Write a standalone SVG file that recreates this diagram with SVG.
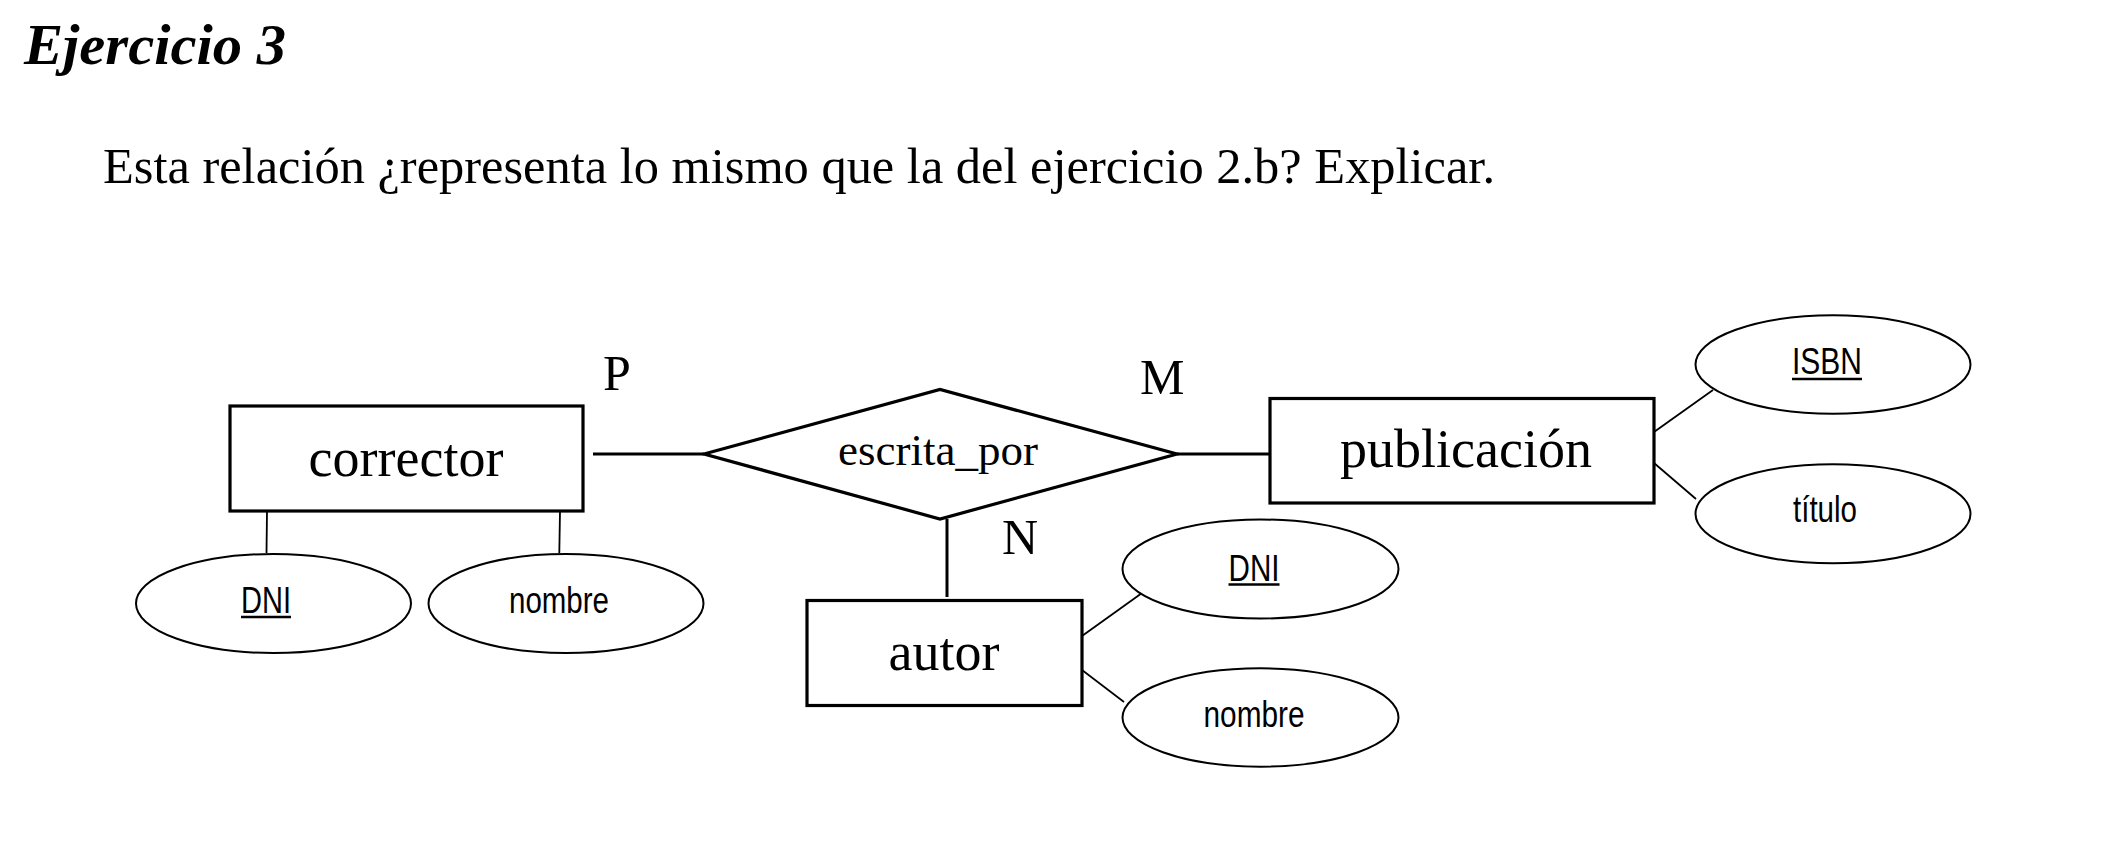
<svg xmlns="http://www.w3.org/2000/svg" width="2113" height="846" viewBox="0 0 2113 846">
<style>
.serif{font-family:"Liberation Serif","Times New Roman",serif;fill:#000}
.ent{fill:#fff;stroke:#000;stroke-width:3.2}
.rel{fill:#fff;stroke:#000;stroke-width:3.2}
.att{fill:#fff;stroke:#000;stroke-width:2}
.conn{stroke:#000;stroke-width:3;fill:none}
.aconn{stroke:#000;stroke-width:1.8;fill:none}
.atxt{font-family:"Liberation Sans Narrow","Liberation Sans",Arial,sans-serif;font-size:36px;fill:#000}
.ul{stroke:#000;stroke-width:2.4}
</style>
<rect width="2113" height="846" fill="#fff"/>
<text class="serif" x="24" y="64" font-size="57" font-weight="bold" font-style="italic" textLength="262" lengthAdjust="spacingAndGlyphs">Ejercicio 3</text>
<text class="serif" x="103" y="183" font-size="50" textLength="1392" lengthAdjust="spacingAndGlyphs">Esta relación ¿representa lo mismo que la del ejercicio 2.b? Explicar.</text>

<g id="connectors">
<line class="conn" x1="593" y1="454" x2="704" y2="454"/>
<line class="conn" x1="1177" y1="454" x2="1269" y2="454"/>
<line class="conn" x1="947" y1="519" x2="947" y2="597"/>
<line class="aconn" x1="267" y1="511" x2="266.5" y2="553"/>
<line class="aconn" x1="560" y1="511" x2="559.3" y2="553"/>
<line class="aconn" x1="1082" y1="636" x2="1142" y2="593"/>
<line class="aconn" x1="1082" y1="670" x2="1124" y2="702"/>
<line class="aconn" x1="1654" y1="432" x2="1713" y2="390"/>
<line class="aconn" x1="1654" y1="463" x2="1696" y2="499"/>
</g>

<g id="corrector">
<rect class="ent" x="230" y="406" width="353" height="105"/>
<text class="serif" x="406" y="476" font-size="54" text-anchor="middle">corrector</text>
</g>
<g id="escrita_por">
<polygon class="rel" points="704,454 940,389.5 1177,454 940,519"/>
<text class="serif" x="938" y="465" font-size="45" text-anchor="middle">escrita_por</text>
</g>
<g id="publicacion">
<rect class="ent" x="1270" y="398.5" width="384" height="104.5"/>
<text class="serif" x="1466" y="467" font-size="54" text-anchor="middle">publicación</text>
</g>
<g id="autor">
<rect class="ent" x="807" y="600.5" width="275" height="105"/>
<text class="serif" x="944" y="670" font-size="54" text-anchor="middle">autor</text>
</g>

<g id="card-P"><text class="serif" x="603" y="390" font-size="50">P</text></g>
<g id="card-M"><text class="serif" x="1140" y="394" font-size="50">M</text></g>
<g id="card-N"><text class="serif" x="1002" y="554" font-size="50">N</text></g>

<g id="corrector-DNI">
<ellipse class="att" cx="273.5" cy="603.5" rx="137.5" ry="49.5"/>
<text class="atxt" x="266" y="613" text-anchor="middle" textLength="50" lengthAdjust="spacingAndGlyphs">DNI</text>
<line class="ul" x1="241" y1="617" x2="291" y2="617"/>
</g>
<g id="corrector-nombre">
<ellipse class="att" cx="566" cy="603.5" rx="137.5" ry="49.5"/>
<text class="atxt" x="559" y="613" text-anchor="middle" textLength="100" lengthAdjust="spacingAndGlyphs">nombre</text>
</g>
<g id="autor-DNI">
<ellipse class="att" cx="1260.5" cy="569" rx="138" ry="49.5"/>
<text class="atxt" x="1254" y="581" text-anchor="middle" textLength="51" lengthAdjust="spacingAndGlyphs">DNI</text>
<line class="ul" x1="1228.5" y1="584.5" x2="1279.5" y2="584.5"/>
</g>
<g id="autor-nombre">
<ellipse class="att" cx="1260.5" cy="717.5" rx="138" ry="49.2"/>
<text class="atxt" x="1254" y="727" text-anchor="middle" textLength="101" lengthAdjust="spacingAndGlyphs">nombre</text>
</g>
<g id="pub-ISBN">
<ellipse class="att" cx="1833" cy="364.5" rx="137.5" ry="49.2"/>
<text class="atxt" x="1827" y="374" text-anchor="middle" textLength="70" lengthAdjust="spacingAndGlyphs">ISBN</text>
<line class="ul" x1="1792" y1="379" x2="1862" y2="379"/>
</g>
<g id="pub-titulo">
<ellipse class="att" cx="1833" cy="513.8" rx="137.5" ry="49.5"/>
<text class="atxt" x="1825" y="522" text-anchor="middle" textLength="64" lengthAdjust="spacingAndGlyphs">título</text>
</g>
</svg>
